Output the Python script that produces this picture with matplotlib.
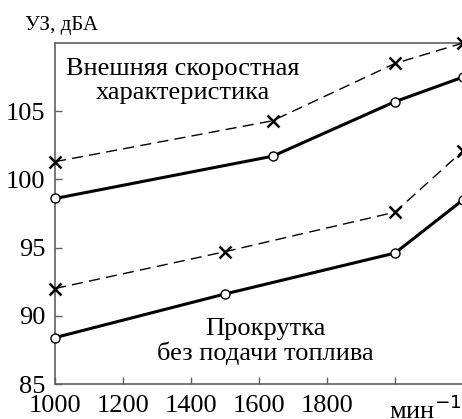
import matplotlib
matplotlib.use("Agg")
import matplotlib.pyplot as plt

rpm_top = [1000, 1640, 2000, 2200]
ext_dashed = [101.3, 104.3, 108.5, 110.0]
ext_solid = [98.6, 101.7, 105.7, 107.5]

rpm_bot = [1000, 1500, 2000, 2200]
mot_dashed = [92.0, 94.7, 97.6, 102.1]
mot_solid = [88.4, 91.6, 94.6, 98.5]

xticks = [1000, 1200, 1400, 1600, 1800, 2000]
xticklabels = ["1000", "1200", "1400", "1600", "1800", ""]
yticks = [85, 90, 95, 100, 105]

plt.rcParams['font.family'] = ['Liberation Serif', 'DejaVu Serif']

fig = plt.figure(figsize=(4.62, 4.19), dpi=100)
ax = fig.add_axes([55/462, 35/419, 408/462, 341/419])

spine_c = '#606060'
for s in ['left', 'top', 'bottom']:
    ax.spines[s].set_color(spine_c)
    ax.spines[s].set_linewidth(1.2)
ax.spines['right'].set_visible(False)

for xs, ys in [(rpm_top, ext_dashed), (rpm_bot, mot_dashed)]:
    ax.plot(xs, ys, color='black', lw=1.0, dashes=(8, 4.5), clip_on=False, zorder=3)
    ax.plot(xs, ys, ls='none', marker='x', ms=9, mew=1.8, color='black', clip_on=False, zorder=4)
for xs, ys in [(rpm_top, ext_solid), (rpm_bot, mot_solid)]:
    ax.plot(xs, ys, color='black', lw=2.2, clip_on=False, zorder=3,
            marker='o', ms=6.5, mfc='white', mec='black', mew=1.0)

ax.set_xlim(1000, 2200)
ax.set_ylim(85, 110)
ax.set_xticks(xticks)
ax.set_xticklabels(xticklabels)
ax.set_yticks(yticks)
ax.tick_params(direction='in', length=5, width=1.0, color=spine_c,
               labelsize=19, pad=7)
ax.tick_params(axis='x', pad=8)

ax.text(1020, 111.25, "УЗ, дБА", fontsize=15, ha='center', va='center', clip_on=False)
ax.text(1375, 107.2, "Внешняя скоростная\nхарактеристика", fontsize=19, ha='center',
        va='center', linespacing=1.1)
ax.text(1620, 88.1, "Прокрутка\nбез подачи топлива", fontsize=19, ha='center',
        va='center', linespacing=1.1)
ax.text(2090, 82.45, "мин$^{-1}$", fontsize=19, ha='center', va='baseline', clip_on=False)

fig.savefig("out.png", dpi=100)
